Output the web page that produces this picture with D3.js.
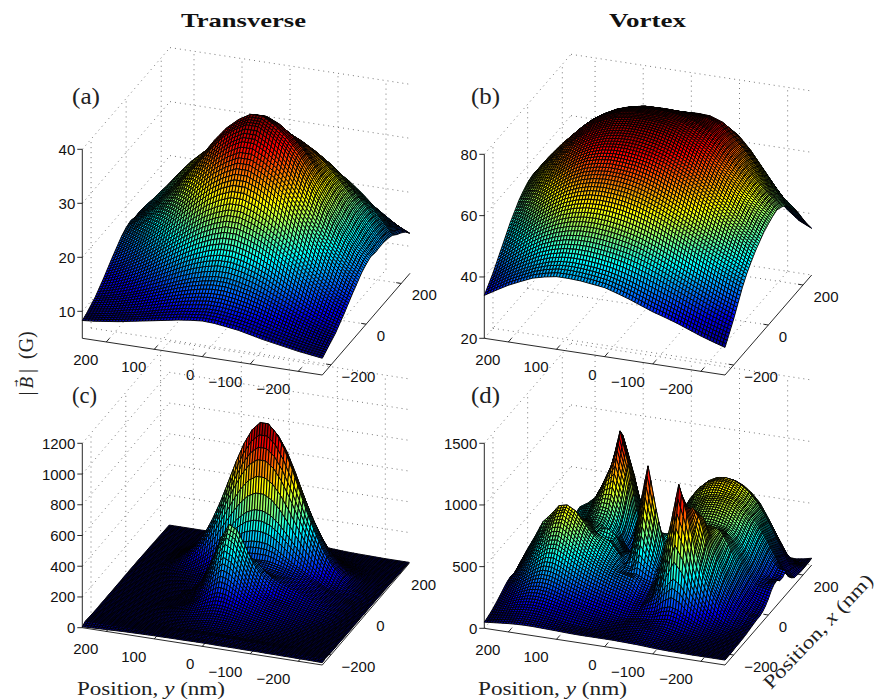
<!DOCTYPE html>
<html><head><meta charset="utf-8">
<style>html,body{margin:0;background:#fff}svg{display:block}</style>
<script src="https://cdn.jsdelivr.net/npm/d3@7"></script></head>
<body><svg id="c" width="875" height="700"></svg>
<script>
// Surface heights. Rows run from the back edge (x=+250) to the front (x=-250),
// columns from y=+250 (left) to y=-250 (right). The fine mesh is drawn as hatching inside each read facet.
const xTicks=[-200,0,200], yTicks=[200,100,0,-100,-200];
const zTicksA=[10,20,30,40], zTicksB=[20,40,60,80], zTicksC=[0,200,400,600,800,1000,1200], zTicksD=[0,500,1000,1500];
const gridA=[
[12.4,10.6,11.3,12,12.9,13.8,14.8,15.8,16.6,17.3,20,20.2,20,19.6,19,18,17,15.8,14.6,13.4,12.4],
[10.6,11.2,11.9,12.8,13.8,14.9,16,17.1,18.1,20,23,23,22.8,22.3,21.6,20.5,19.3,18,16.5,15,13.6],
[11.1,11.9,12.7,13.7,14.9,16.2,17.4,18.7,19.9,22.4,25.5,25.5,25.2,24.6,23.8,22.7,21.4,19.8,18,16,14.4],
[11.9,12.7,13.8,14.9,16.3,17.8,19.3,20.9,22.2,24.8,28,27.8,27.5,27,26.2,25,23.6,21.8,19.8,17.4,15],
[14,15.6,17.6,19.6,21.8,23.6,25,25.8,26,27.8,30.5,30.3,30,29.5,28.5,27,25,23,21,18.5,15.8],
[15.4,17.5,19.8,22.3,25,27,28.5,29.2,29.4,31,33,32.7,32.2,31.5,30.2,28.6,26.5,24.2,21.8,19,16.2],
[16,18.3,20.8,23.5,26,28,29.8,30.8,31.6,33.2,35,34.7,34,33,31.5,29.6,27.3,24.8,22,19.2,16.4],
[16.2,18.6,21,23.5,26,28.2,30,31.6,33.3,35.3,37,36.7,35.8,34.3,32.3,30,27.6,24.8,22,19,16.4],
[16.1,18,20.2,22.6,25,27.5,30,32.8,35.4,37.2,38.5,38.5,37.5,35.8,33.4,30.5,27.5,24.6,21.6,18.8,16.3],
[16.4,18,20,22.3,24.9,27.8,30.7,33.7,36.3,38.2,39.5,39.5,38.2,36.3,33.7,30.4,27.2,23.9,21,18.4,16.5],
[16.1,17.7,19.6,21.8,24.3,27.2,30,32.8,35.4,37.2,38.5,38.5,37.2,35.4,32.8,29.7,26.5,23.4,20.5,18,16.1],
[15.5,16.9,18.7,20.7,23.1,25.7,28.4,31,33.3,35.1,36.3,36.3,35.1,33.3,31,28.1,25.1,22.2,19.6,17.2,15.5],
[14.6,15.9,17.5,19.4,21.5,23.8,26.2,28.6,30.7,32.2,33.3,33.3,32.2,30.7,28.6,25.9,23.3,20.7,18.3,16.2,14.6],
[13.7,14.9,16.2,17.9,19.7,21.8,23.9,25.9,27.8,29.2,30.1,30.1,29.2,27.8,25.9,23.6,21.3,19,16.9,15.1,13.7],
[12.7,13.6,14.8,16.2,17.7,19.5,21.2,23,24.6,25.7,26.5,26.5,25.7,24.6,23,21,19.1,17.1,15.4,13.8,12.7],
[11.7,12.5,13.5,14.6,15.9,17.4,18.9,20.3,21.6,22.6,23.3,23.3,22.6,21.6,20.3,18.7,17.1,15.5,14,12.7,11.7],
[10.8,11.4,12.2,13.1,14.2,15.3,16.5,17.7,18.7,19.5,20,20,19.5,18.7,17.7,16.4,15.1,13.8,12.6,11.6,10.8],
[9.9,10.4,11,11.7,12.5,13.4,14.3,15.2,16,16.6,17,17,16.6,16,15.2,14.2,13.2,12.2,11.3,10.5,9.9],
[9.3,9.7,10.1,10.7,11.3,12,12.7,13.4,14,14.5,14.8,14.8,14.5,14,13.4,12.6,11.8,11.1,10.4,9.8,9.3],
[8.7,9,9.3,9.8,10.2,10.7,11.3,11.8,12.3,12.6,12.9,12.9,12.6,12.3,11.8,11.2,10.6,10,9.5,9,8.7],
[8.3,8.5,8.8,9.1,9.5,9.9,10.3,10.7,11.1,11.4,11.6,11.5,11.2,10.9,10.4,9.9,9.5,9.1,8.7,8.4,8.1]];
const gridB=[
[36,40,43.4,46,48,49.5,50.5,51.2,51.6,51.8,52,52.4,52.8,53,52.5,50.7,47.5,43.7,40,37,35.2],
[39.5,44.4,48.2,51.4,53.6,55.4,56.7,57.6,58,58.2,58.4,59,59.4,59.6,59,57,53.5,49,44.5,40.4,38.2],
[43,48.6,53,56.5,59,61,62.5,63.5,64,64.2,64.3,65,65.5,65.6,65,63,59,54,49,44.4,41.5],
[46,52.4,57,60.8,63.6,65.7,67.4,68.5,69.2,69.5,69.6,70.2,70.6,70.6,70,67.4,63.2,58,52.8,48,45],
[49,55.6,60.6,64.5,67.5,69.8,71.5,72.7,73.4,73.7,73.8,74.2,74.4,74.2,72.8,69.8,66,61,56,51.6,48],
[51,58,63,67,70,72,74,75,76,76,76,76,75.8,75.4,73.8,71,67.5,63,58,54,50],
[53,59,63.6,67.6,71,73.5,75.5,76.8,77.6,77.9,78,77.8,77.2,76,74.3,71.6,68,64,59.6,55.4,52.5],
[54.4,59.6,64,68,71.6,74.4,76.5,77.9,78.6,78.9,79,78.8,78,76.8,74.8,72,68.3,64.6,60.6,56.8,53.6],
[55,60,64.5,68.5,72,75,77,78.4,79,79.2,79.2,79,78.2,76.7,74.6,71.8,68.2,64.6,60.8,57.2,54.3],
[55,59.7,64.2,68.3,71.8,74.7,76.8,78.2,78.8,79,78.9,78.5,77.4,75.7,73.6,70.8,67.4,64,60.4,57,53.8],
[54.5,59,63.4,67.4,71,73.8,75.8,77.2,77.9,78,77.8,77.2,76,74.2,72,69.2,66,62.8,59.4,56,53],
[53.4,57.8,62,66,69.5,72.2,74.3,75.6,76.2,76.4,76,75.2,74,72.1,70,67.3,64.4,61.3,58.1,54.9,52],
[52,56.2,60.3,64.2,67.6,70.3,72.3,73.6,74.1,74.1,73.6,72.8,71.5,69.6,67.5,65,62.2,59.4,56.4,53.4,50.5],
[50,54.2,58.2,62,65.2,68,70,71,71.5,71.3,70.9,70,68.6,66.7,64.6,62.2,59.6,57,54.4,51.8,49],
[48,52,55.8,59.3,62.3,65,66.8,67.8,68.2,68.1,67.6,66.6,65.2,63.4,61.4,59,56.6,54.2,52,49.6,47],
[45.5,49.5,53,56.4,59.2,61.6,63.2,64.2,64.5,64.3,63.8,62.8,61.4,59.8,57.8,55.6,53.4,51.2,49,47,44.8],
[43,46.6,50,53.2,55.8,58,59.4,60.2,60.4,60.2,59.6,58.6,57.3,55.7,53.8,51.8,49.6,47.6,45.6,43.7,42],
[40.5,43.8,46.9,49.8,52.2,54,55.2,55.8,55.9,55.6,55,54.2,53,51.4,49.6,47.6,45.7,43.8,41.8,40,38.5],
[38,41,43.7,46.2,48.5,50,51,51.4,51.4,51,50.4,49.6,48.4,47,45.4,43.6,41.8,40,38.2,36.6,35],
[36,38.6,41,43,44.8,46.2,47,47.2,47,46.6,46,45,43.7,42.2,40.7,39.2,37.6,36,34.5,33.2,32],
[34,36.3,38.5,40.3,42,43,43.7,43.7,43.5,43,42.5,41.3,40,38.5,37,35.8,34.5,33,31.5,30.2,29]];
const gridC=[
[6,6,6,6,6,7,8,9,10,12,15,18,21,23,25,26,26,25,23,21,18,15,12,10,9,8,7,6,6,6,6],
[7,7,7,7,7,8,9,11,14,17,21,26,30,34,36,38,38,36,34,30,26,21,17,14,11,9,8,7,7,7,7],
[8,8,8,8,8,10,12,15,19,24,30,37,44,51,55,58,58,55,51,44,37,30,24,19,15,12,10,9,8,8,8],
[8,8,8,8,9,12,16,21,28,37,48,61,73,85,93,98,98,93,85,73,61,48,37,28,21,16,12,10,9,8,8],
[9,9,9,9,11,16,22,31,44,60,80,102,125,145,160,168,168,160,145,125,102,80,60,44,31,22,16,12,10,9,9],
[10,10,10,10,14,22,33,50,72,100,134,173,213,248,275,291,291,275,248,213,173,134,100,72,50,33,22,16,12,10,10],
[11,11,11,11,17,31,49,74,107,153,206,268,330,386,428,452,452,428,386,330,268,206,153,107,74,49,31,20,15,12,11],
[12,12,12,13,22,42,67,102,150,215,292,380,470,550,610,645,645,610,550,470,380,292,215,150,102,67,42,26,18,14,12],
[12,12,12,14,27,52,84,129,191,277,376,491,608,712,790,835,835,790,712,608,491,376,277,191,129,84,52,31,20,14,13],
[13,13,13,15,30,58,95,147,220,319,434,567,703,824,914,966,966,914,824,703,567,434,319,220,147,95,58,35,22,15,13],
[13,13,13,15,31,60,100,155,232,335,456,596,739,865,961,1015,1015,961,865,739,596,456,335,232,155,100,60,38,25,16,13],
[14,14,14,15,26,50,80,125,185,265,360,470,580,680,755,795,795,755,680,580,470,365,275,195,130,88,58,38,25,16,14],
[14,14,14,15,20,36,55,82,118,168,225,292,360,422,468,492,492,470,425,365,300,240,188,140,102,72,50,32,22,16,14],
[14,14,14,14,17,26,38,55,78,108,145,188,232,268,296,310,312,305,282,245,210,180,150,118,90,66,46,30,20,15,14],
[14,14,14,14,15,21,29,40,56,76,100,130,160,185,205,215,218,220,215,200,185,165,142,118,95,72,50,32,20,15,14],
[14,14,14,14,15,18,24,32,44,60,80,108,150,200,240,250,225,205,195,185,170,155,135,112,92,70,50,32,20,15,14],
[14,14,14,14,14,16,20,26,34,44,60,85,130,190,235,230,205,195,190,180,168,150,130,110,90,70,50,32,20,15,14],
[14,14,14,14,14,15,18,22,28,36,60,130,215,300,365,355,310,285,230,190,165,145,125,105,85,65,47,30,20,15,14],
[14,14,14,14,14,15,16,19,24,44,83,164,285,424,520,492,396,292,226,178,145,125,105,88,72,55,40,28,18,15,14],
[14,14,14,14,14,14,16,18,22,39,71,143,254,373,455,423,337,249,184,139,110,100,88,75,60,46,34,24,18,15,14],
[14,14,14,14,14,14,15,17,25,32,56,112,195,285,350,325,262,190,150,121,100,88,76,62,48,36,26,20,16,15,14],
[14,14,14,14,14,14,15,18,25,34,50,85,142,205,250,235,195,150,120,100,84,72,60,48,38,28,22,18,16,15,14],
[14,14,14,14,14,14,16,20,26,36,50,72,105,140,165,160,138,115,96,80,68,56,46,38,30,24,20,17,16,15,14],
[14,14,14,14,14,14,15,18,24,32,42,56,74,92,108,108,98,85,72,60,50,42,35,29,24,20,18,16,15,15,15],
[14,14,14,14,14,14,15,16,20,25,32,40,50,62,72,74,70,62,54,46,38,32,27,23,20,18,16,15,15,15,15],
[14,14,14,14,14,14,14,15,17,20,24,29,35,42,48,50,48,44,39,33,28,24,21,19,17,16,15,15,15,15,15],
[14,14,14,14,14,14,14,15,15,17,19,22,25,29,32,33,32,30,27,24,21,19,18,16,16,15,15,15,15,15,15],
[16,16,16,15,15,15,15,15,15,16,17,18,20,22,23,24,23,22,21,20,19,18,17,16,16,15,15,15,15,15,15],
[18,18,18,18,18,18,17,17,17,18,19,21,23,25,27,28,28,28,27,26,25,24,22,21,20,19,18,17,17,17,17],
[20,20,20,20,20,20,20,20,20,20,20,20,21,21,22,22,22,22,22,22,22,21,21,20,20,20,20,20,20,20,20],
[6,8,10,12,14,16,17,18,19,20,20,21,21,21,22,22,22,21,21,21,20,20,20,19,19,18,18,17,17,16,15]];
const gridD=[
[20,22,25,30,40,55,70,85,100,105,95,80,70,70,75,85,95,105,110,115,115,110,100,90,75,60,45,35,30,40,55],
[24,27,32,40,52,70,90,110,125,135,115,90,78,78,90,110,135,160,180,195,200,200,190,170,145,115,85,60,40,38,50],
[28,33,40,52,75,100,120,145,180,220,170,110,88,92,115,155,205,265,320,365,395,405,395,365,320,265,200,135,80,50,48],
[30,38,52,75,115,150,175,215,265,350,265,155,105,112,150,215,300,390,480,550,595,620,620,590,540,470,370,260,150,80,48],
[32,44,68,105,165,225,265,330,405,545,415,240,135,138,190,280,390,500,590,650,695,715,710,680,630,560,450,330,200,105,50],
[35,50,85,145,225,305,360,450,550,745,570,325,180,160,220,320,440,560,650,710,745,755,745,715,665,590,490,370,240,125,55],
[40,62,105,195,340,395,445,555,680,920,700,405,220,175,235,330,450,570,660,715,745,750,735,700,650,585,500,380,260,135,60],
[48,72,120,225,400,445,500,620,760,1030,785,450,245,185,225,315,430,545,635,695,720,725,710,685,640,580,510,395,280,150,85],
[60,85,130,240,430,470,530,660,810,1095,835,480,260,190,200,270,380,510,600,655,685,695,695,680,640,580,515,410,300,190,120],
[72,95,135,240,420,460,520,645,790,960,760,440,250,190,190,240,340,470,570,630,665,680,680,665,630,575,500,395,285,210,195],
[85,105,150,245,400,440,495,610,730,800,640,380,235,190,190,230,320,440,540,600,640,655,655,640,605,550,470,370,260,190,170],
[95,115,160,245,385,425,470,560,650,660,540,335,225,195,205,250,320,430,520,575,610,625,625,610,575,520,440,340,235,175,170],
[105,125,170,255,370,415,455,525,580,570,470,320,225,210,240,310,370,450,515,555,580,590,590,575,560,500,410,310,215,190,200],
[120,145,195,280,385,430,465,505,535,520,440,350,270,250,330,480,470,470,500,530,550,565,570,570,560,500,400,290,200,190,195],
[135,180,250,340,430,480,500,510,515,495,420,400,300,300,480,790,500,450,460,490,530,565,590,600,590,510,400,280,190,180,170],
[150,215,295,380,470,530,545,540,525,490,500,450,330,340,720,1060,720,420,340,380,440,530,620,650,620,520,380,260,170,150,130],
[165,250,340,440,520,585,600,580,560,490,430,440,350,310,560,830,590,350,330,370,440,560,660,680,610,480,350,240,160,120,100],
[175,285,390,495,575,645,665,635,600,520,490,460,380,300,420,620,460,320,340,380,470,620,720,710,600,450,320,225,150,105,80],
[190,320,440,570,640,720,735,700,620,540,480,430,370,320,310,420,350,300,350,400,530,720,850,790,580,430,300,200,135,90,70],
[175,290,400,510,600,680,705,660,590,510,460,410,360,320,290,290,260,240,320,430,620,850,900,800,540,380,270,185,125,90,70],
[165,260,360,460,555,630,645,600,530,470,420,380,345,315,300,285,230,210,290,480,720,1010,900,680,480,330,230,155,105,75,65],
[175,240,320,410,490,555,565,520,470,425,385,350,320,295,270,245,200,190,260,520,800,1130,900,620,420,290,195,130,90,65,60],
[165,220,285,360,425,480,490,455,410,370,335,305,280,255,235,210,175,170,220,340,560,800,650,420,280,190,130,95,70,60,55],
[150,195,250,310,360,400,400,375,340,305,275,250,228,208,190,170,155,155,200,240,340,420,370,260,190,135,100,80,60,55,50],
[130,170,215,260,300,325,320,300,270,245,222,200,182,165,150,135,125,135,150,160,200,220,200,160,125,100,80,65,55,50,48],
[112,145,180,215,245,255,250,232,210,190,172,155,140,127,115,105,100,115,120,120,135,145,135,115,95,78,65,55,50,48,45],
[95,120,150,175,195,200,195,182,165,150,135,122,110,100,92,88,90,105,110,110,110,110,95,80,70,62,55,50,47,45,45],
[80,100,120,140,150,155,150,140,130,120,110,100,90,82,78,78,82,88,95,100,98,88,75,65,58,52,48,45,43,42,42],
[68,82,96,110,118,120,118,110,100,90,80,72,68,66,68,70,72,75,78,78,75,68,60,54,50,46,43,42,40,40,40],
[58,68,78,86,92,94,92,88,82,76,70,66,64,62,62,63,64,65,66,64,60,56,52,48,45,43,41,40,40,40,40],
[50,56,62,68,72,74,74,72,70,68,65,63,62,62,62,62,62,60,58,56,52,48,45,43,42,41,40,40,40,40,40]];

const jet=d3.scaleLinear().domain([0,.125,.375,.625,.875,1])
  .range(["#00008f","#0000ff","#00ffff","#ffff00","#ff0000","#800000"]);
const svg=d3.select("#c");
const SANS="'Liberation Sans',Arial,sans-serif", SERIF="'Liberation Serif',serif";

const panels=[
 {grid:gridA,zTicks:zTicksA,ox:82.3,oy:338.3,yv:[240,36.7],xv:[87.7,-101.7],zd:[5,40],h:189,sub:4},
 {grid:gridB,zTicks:zTicksB,ox:484.3,oy:338.3,yv:[240.7,36.7],xv:[86.7,-100],zd:[20,80],h:184,sub:4},
 {grid:gridC,zTicks:zTicksC,ox:82.3,oy:627.7,yv:[240,37.3],xv:[87,-101.7],zd:[0,1200],h:184.4,sub:3},
 {grid:gridD,zTicks:zTicksD,ox:484.3,oy:628.3,yv:[240.7,36.7],xv:[86.7,-100],zd:[0,1500],h:185,sub:3}];

panels.forEach(p=>{
  const g=svg.append("g");
  const yX=d3.scaleLinear([250,-250],[0,p.yv[0]]), yY=d3.scaleLinear([250,-250],[0,p.yv[1]]);
  const xX=d3.scaleLinear([-250,250],[0,p.xv[0]]), xY=d3.scaleLinear([-250,250],[0,p.xv[1]]);
  const zS=d3.scaleLinear(p.zd,[0,-p.h]);
  const P=(x,y,z)=>[p.ox+yX(y)+xX(x), p.oy+yY(y)+xY(x)+zS(z)];
  const seg=(a,b)=>d3.line()([a,b]);
  const zb=p.zd[0];
  const dots=[];
  yTicks.forEach(y=>{dots.push([P(250,y,zb),P(250,y,p.zd[1])]);dots.push([P(-250,y,zb),P(250,y,zb)]);});
  xTicks.forEach(x=>{dots.push([P(x,250,zb),P(x,250,p.zd[1])]);dots.push([P(x,250,zb),P(x,-250,zb)]);});
  p.zTicks.forEach(z=>{dots.push([P(-250,250,z),P(250,250,z)]);dots.push([P(250,250,z),P(250,-250,z)]);});
  g.append("g").selectAll("path").data(dots).join("path").attr("d",d=>seg(d[0],d[1]))
   .attr("fill","none").attr("stroke","#555").attr("stroke-width",.8).attr("stroke-dasharray","1 4");
  const ax=g.append("g").attr("stroke","#111").attr("stroke-width",.9).attr("fill","none");
  ax.append("path").attr("d",seg(P(-250,250,zb),P(-250,250,p.zd[1])));
  ax.append("path").attr("d",seg(P(-250,250,zb),P(-250,-250,zb)));
  ax.append("path").attr("d",seg(P(-250,-250,zb),P(250,-250,zb)));
  const txt=g.append("g").attr("font-family",SANS).attr("font-size",15).attr("fill","#111");
  const fmt=v=>String(v).replace("-","\u2212");
  p.zTicks.forEach(z=>{const q=P(-250,250,z);
    ax.append("path").attr("d",seg(q,[q[0]-5,q[1]]));
    txt.append("text").attr("x",q[0]-7).attr("y",q[1]+5.5).attr("text-anchor","end").text(fmt(z));});
  yTicks.forEach(y=>{const q=P(-250,y,zb);
    ax.append("path").attr("d",seg(q,[q[0]+3.2,q[1]-3.7]));
    txt.append("text").attr("x",q[0]-8).attr("y",q[1]+23).attr("text-anchor","end").text(fmt(y));});
  xTicks.forEach(x=>{const q=P(x,-250,zb);
    ax.append("path").attr("d",seg(q,[q[0]-5,q[1]-.8]));
    txt.append("text").attr("x",q[0]+10.5).attr("y",q[1]+16.7).text(fmt(x));});
  const n=p.grid.length, xs=d3.scaleLinear([0,n-1],[250,-250]), ys=d3.scaleLinear([0,n-1],[250,-250]);
  const flat=p.grid.flat(), col=d3.scaleLinear(d3.extent(flat),[0,1]);
  const quads=[];
  const H=(r,c)=>{const r0=Math.min(Math.floor(r),n-2),c0=Math.min(Math.floor(c),n-2),a=r-r0,b=c-c0,G=p.grid;
    return (1-a)*((1-b)*G[r0][c0]+b*G[r0][c0+1])+a*((1-b)*G[r0+1][c0]+b*G[r0+1][c0+1]);};
  const s=p.sub, m=(n-1)*s;
  for(let i=0;i<m;i++)for(let j=0;j<m;j++){
    const cs=[[i,j],[i,j+1],[i+1,j+1],[i+1,j]].map(([a,b])=>{const r=a/s,c=b/s;return {r,c,z:H(r,c)};});
    quads.push({pts:cs.map(o=>P(xs(o.r),ys(o.c),o.z)),z:d3.mean(cs,o=>o.z)});
  }
  const line=d3.line();
  g.append("g").attr("stroke","#000").attr("stroke-width",.95).attr("stroke-linejoin","round")
   .selectAll("path").data(quads).join("path").attr("d",d=>line(d.pts)+"Z").attr("fill",d=>jet(col(d.z)));
});

const T=svg.append("g").attr("font-family",SERIF).attr("fill","#222");
const put=(s,x,y,size,len,extra={})=>{const t=T.append("text").attr("x",x).attr("y",y).attr("font-size",size).text(s);
  if(len)t.attr("textLength",len).attr("lengthAdjust","spacingAndGlyphs");
  Object.entries(extra).forEach(([k,v])=>t.attr(k,v));return t;};
put("Transverse",181,27,19,125,{"font-weight":"bold",fill:"#111"});
put("Vortex",609,27,19,77,{"font-weight":"bold",fill:"#111"});
put("(a)",72,104,23,28);put("(b)",471,104,23,29);put("(c)",72,403,23,25);put("(d)",471,403,23,29);
[[77,695,148],[478,695,149]].forEach(([x,y,l])=>{
  const t=T.append("text").attr("x",x).attr("y",y).attr("font-size",19).attr("textLength",l).attr("lengthAdjust","spacingAndGlyphs");
  t.append("tspan").text("Position, ");t.append("tspan").attr("font-style","italic").text("y");t.append("tspan").text(" (nm)");});
const xt=T.append("text").attr("transform","translate(771,690) rotate(-46.5)").attr("font-size",19).attr("textLength",150).attr("lengthAdjust","spacingAndGlyphs");
xt.append("tspan").text("Position, ");xt.append("tspan").attr("font-style","italic").text("x");xt.append("tspan").text(" (nm)");
const bl=T.append("g").attr("transform","translate(33,394) rotate(-90)").attr("font-size",20);
bl.append("text").attr("x",-1.5).text("|");
bl.append("text").attr("x",5.5).attr("font-style","italic").attr("font-size",19).text("B");
bl.append("text").attr("x",7).attr("y",-14).attr("font-size",9).attr("font-family","'DejaVu Sans'").text("\u2192");
bl.append("text").attr("x",21).text("|");
bl.append("text").attr("x",35).text("(G)");
</script></body></html>
